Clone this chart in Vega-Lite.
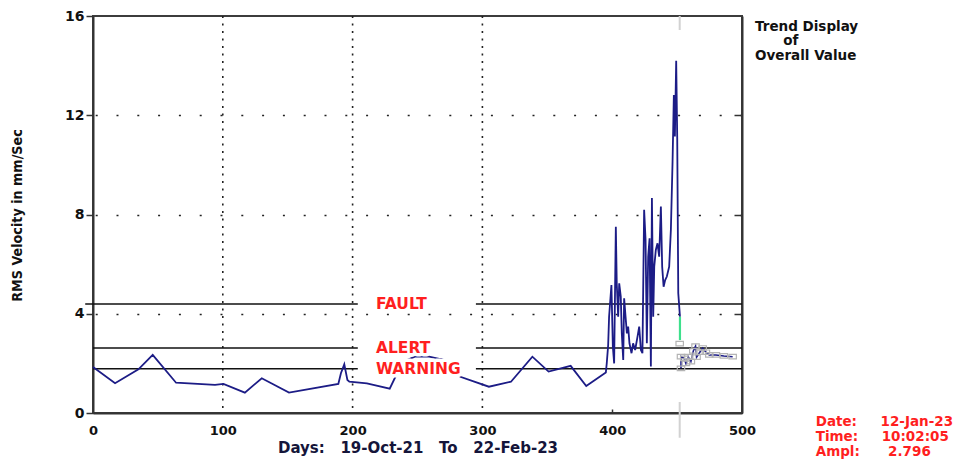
{
  "$schema": "https://vega.github.io/schema/vega-lite/v6.json",
  "width": 649,
  "height": 397,
  "autosize": {"type": "none"},
  "padding": {"left": 93, "top": 16, "right": 228, "bottom": 46},
  "background": "white",
  "title": {
    "text": ["Trend Display", "\u200b\u00a0\u00a0\u00a0\u00a0\u00a0\u00a0of", "Overall Value"],
    "orient": "top",
    "anchor": "start",
    "frame": "group",
    "baseline": "top",
    "offset": 0,
    "dx": 662,
    "dy": 53,
    "font": "DejaVu Sans",
    "fontSize": 13.5,
    "fontWeight": "bold",
    "color": "#111111",
    "lineHeight": 14.5
  },
  "config": {
    "view": {"stroke": "#3c3c3c", "strokeWidth": 2},
    "font": "DejaVu Sans",
    "axis": {
      "domainColor": "#333333",
      "domainWidth": 2,
      "tickColor": "#333333",
      "tickWidth": 1.5,
      "labelFont": "DejaVu Sans",
      "labelFontWeight": "bold",
      "labelColor": "#111111",
      "grid": false
    }
  },
  "resolve": {"axis": {"x": "independent", "y": "independent"}},
  "datasets": {
    "trend": [
      {"day": 0, "rms": 1.85}, {"day": 17, "rms": 1.2}, {"day": 35, "rms": 1.76}, {"day": 46, "rms": 2.34},
      {"day": 64, "rms": 1.22}, {"day": 94, "rms": 1.13}, {"day": 100.5, "rms": 1.17}, {"day": 117, "rms": 0.82},
      {"day": 130, "rms": 1.4}, {"day": 151, "rms": 0.82}, {"day": 189, "rms": 1.17}, {"day": 191, "rms": 1.6},
      {"day": 193.6, "rms": 1.96}, {"day": 196, "rms": 1.33}, {"day": 197.5, "rms": 1.26}, {"day": 211, "rms": 1.19},
      {"day": 228.6, "rms": 0.98}, {"day": 233, "rms": 1.46}, {"day": 242, "rms": 2.14}, {"day": 248, "rms": 2.27},
      {"day": 259, "rms": 2.27}, {"day": 270, "rms": 2.14}, {"day": 283, "rms": 1.46}, {"day": 305, "rms": 1.06},
      {"day": 322, "rms": 1.26}, {"day": 338.5, "rms": 2.27}, {"day": 351, "rms": 1.67}, {"day": 368, "rms": 1.9},
      {"day": 380, "rms": 1.09}, {"day": 395.1, "rms": 1.63}, {"day": 395.8, "rms": 2.0}, {"day": 396.9, "rms": 2.74},
      {"day": 397.6, "rms": 3.88}, {"day": 399.4, "rms": 5.16}, {"day": 400.5, "rms": 2.67}, {"day": 401.5, "rms": 2.0},
      {"day": 402.8, "rms": 7.51}, {"day": 403.5, "rms": 5.23}, {"day": 404.6, "rms": 3.88}, {"day": 405.4, "rms": 5.23},
      {"day": 406.6, "rms": 4.69}, {"day": 407.4, "rms": 3.21}, {"day": 408.5, "rms": 2.14}, {"day": 409.2, "rms": 4.62},
      {"day": 410.3, "rms": 3.88}, {"day": 411.3, "rms": 3.21}, {"day": 412.3, "rms": 3.48}, {"day": 413.3, "rms": 2.81},
      {"day": 414.9, "rms": 2.41}, {"day": 416.1, "rms": 2.81}, {"day": 417.7, "rms": 2.54}, {"day": 419.5, "rms": 3.08},
      {"day": 420.8, "rms": 3.48}, {"day": 422.1, "rms": 2.54}, {"day": 423.3, "rms": 2.41}, {"day": 424.6, "rms": 8.19},
      {"day": 425.7, "rms": 6.98}, {"day": 426.7, "rms": 2.81}, {"day": 427.7, "rms": 6.3}, {"day": 428.8, "rms": 7.04},
      {"day": 429.8, "rms": 1.87}, {"day": 430.6, "rms": 8.66}, {"day": 431.6, "rms": 3.88}, {"day": 432.4, "rms": 5.9},
      {"day": 433.6, "rms": 6.57}, {"day": 434.9, "rms": 6.84}, {"day": 436.2, "rms": 6.3}, {"day": 437.5, "rms": 8.32},
      {"day": 438.5, "rms": 5.9}, {"day": 439.6, "rms": 5.09}, {"day": 440.8, "rms": 5.36}, {"day": 442.1, "rms": 5.5},
      {"day": 443.9, "rms": 5.9}, {"day": 445.2, "rms": 7.38}, {"day": 446.5, "rms": 10.13}, {"day": 447.5, "rms": 12.82},
      {"day": 448.3, "rms": 11.14}, {"day": 449.3, "rms": 14.2}, {"day": 450.1, "rms": 11.08}, {"day": 450.9, "rms": 4.83},
      {"day": 452.2, "rms": 3.88}
    ],
    "link": [
      {"day": 452.2, "rms": 3.88}, {"day": 452.2, "rms": 2.94}
    ],
    "recent": [
      {"day": 453.0, "rms": 1.8}, {"day": 453.0, "rms": 2.27}, {"day": 455.5, "rms": 2.2}, {"day": 456.8, "rms": 2.0},
      {"day": 458.5, "rms": 2.27}, {"day": 460.6, "rms": 2.07}, {"day": 462.5, "rms": 2.5}, {"day": 464.2, "rms": 2.7},
      {"day": 465.0, "rms": 2.25}, {"day": 467.5, "rms": 2.45}, {"day": 469.7, "rms": 2.62}, {"day": 472.2, "rms": 2.45},
      {"day": 474.8, "rms": 2.34}, {"day": 479.9, "rms": 2.34}, {"day": 486.0, "rms": 2.3}, {"day": 492.8, "rms": 2.27}
    ],
    "limits": [
      {"level": "FAULT", "rms": 4.39, "from": -6, "to": 204},
      {"level": "FAULT", "rms": 4.39, "from": 295, "to": 500},
      {"level": "ALERT", "rms": 2.62, "from": 0, "to": 204},
      {"level": "ALERT", "rms": 2.62, "from": 295, "to": 500},
      {"level": "WARNING", "rms": 1.78, "from": 0, "to": 204},
      {"level": "WARNING", "rms": 1.78, "from": 295, "to": 500}
    ],
    "limitLabels": [
      {"level": "FAULT", "rms": 4.39},
      {"level": "ALERT", "rms": 2.62},
      {"level": "WARNING", "rms": 1.78}
    ],
    "gridDays": [{"day": 100}, {"day": 200}, {"day": 300}],
    "cursor": [
      {"day": 452.0, "rms": 2.796, "readout": "Date:\u00a0\u00a0\u00a0\u00a0\u00a012-Jan-23\nTime:\u00a0\u00a0\u00a0\u00a0\u00a010:02:05\nAmpl:\u00a0\u00a0\u00a0\u00a0\u00a0\u00a02.796"}
    ]
  },
  "layer": [
    {
      "data": {"name": "gridDays"},
      "mark": {"type": "rule", "color": "#222222", "strokeWidth": 1.6, "strokeDash": [2, 5.5]},
      "encoding": {
        "x": {
          "field": "day", "type": "quantitative",
          "scale": {"domain": [0, 500], "nice": false, "zero": false},
          "axis": {"values": [400], "orient": "bottom", "ticks": true, "tickSize": -4, "labels": false, "domain": false, "title": null}
        }
      }
    },
    {
      "data": {"name": "limits"},
      "mark": {"type": "rule", "color": "#111111", "strokeWidth": 1.5},
      "encoding": {
        "x": {"field": "from", "type": "quantitative", "scale": {"domain": [0, 500], "nice": false, "zero": false}, "axis": null},
        "x2": {"field": "to"},
        "y": {"field": "rms", "type": "quantitative", "scale": {"domain": [0, 16], "nice": false}, "axis": null}
      }
    },
    {
      "data": {"name": "cursor"},
      "mark": {"type": "rule", "color": "#d2d2d2", "strokeWidth": 2, "strokeDash": [14, 372, 40, 20]},
      "encoding": {
        "x": {"field": "day", "type": "quantitative", "scale": {"domain": [0, 500], "nice": false, "zero": false}, "axis": null},
        "y": {"datum": 16, "type": "quantitative", "scale": {"domain": [0, 16], "nice": false}, "axis": null},
        "y2": {"datum": -1}
      }
    },
    {
      "data": {"name": "trend"},
      "mark": {"type": "line", "color": "#1c1c86", "strokeWidth": 1.8, "strokeJoin": "miter"},
      "encoding": {
        "x": {
          "field": "day", "type": "quantitative",
          "scale": {"domain": [0, 500], "nice": false, "zero": false},
          "axis": {
            "orient": "bottom",
            "values": [0, 100, 200, 300, 400, 500],
            "ticks": false,
            "labelPadding": 11,
            "labelFontSize": 13,
            "labelFlush": false,
            "title": "Days:\u00a0\u00a0 19-Oct-21\u00a0\u00a0 To\u00a0\u00a0 22-Feb-23",
            "titleFont": "DejaVu Sans",
            "titleFontSize": 15,
            "titleFontWeight": "bold",
            "titleColor": "#15153a",
            "titlePadding": 3
          }
        },
        "y": {
          "field": "rms", "type": "quantitative",
          "scale": {"domain": [0, 16], "nice": false},
          "axis": {
            "values": [0, 4, 8, 12, 16],
            "tickSize": 7,
            "labelPadding": 2,
            "labelFontSize": 14,
            "labelFlush": false,
            "title": "RMS Velocity in mm/Sec",
            "titleFont": "DejaVu Sans Condensed, Liberation Sans, sans-serif",
            "titleFontSize": 14.2,
            "titleFontWeight": "bold",
            "titleColor": "#111111",
            "titleX": -69,
            "titleY": 199,
            "titleAlign": "center"
          }
        },
        "order": {"field": "day", "type": "quantitative"}
      }
    },
    {
      "data": {"name": "link"},
      "mark": {"type": "line", "color": "#3ee08c", "strokeWidth": 2.2},
      "encoding": {
        "x": {"field": "day", "type": "quantitative", "scale": {"domain": [0, 500], "nice": false, "zero": false}, "axis": null},
        "y": {
          "field": "rms", "type": "quantitative",
          "scale": {"domain": [0, 16], "nice": false},
          "axis": {
            "orient": "right",
            "values": [4, 8, 12],
            "labels": false,
            "ticks": true,
            "tickSize": -8,
            "domain": true,
            "grid": true,
            "gridColor": "#222222",
            "gridWidth": 1.6,
            "gridDash": [2, 18.8],
            "title": null
          }
        }
      }
    },
    {
      "data": {"name": "recent"},
      "mark": {"type": "line", "color": "#1c1c86", "strokeWidth": 1.6},
      "encoding": {
        "x": {"field": "day", "type": "quantitative", "scale": {"domain": [0, 500], "nice": false, "zero": false}, "axis": null},
        "y": {"field": "rms", "type": "quantitative", "scale": {"domain": [0, 16], "nice": false}, "axis": null},
        "order": {"field": "day", "type": "quantitative"}
      }
    },
    {
      "data": {"name": "recent"},
      "mark": {"type": "point", "shape": "M-1,-0.6H1V0.6H-1Z", "size": 55, "filled": false, "color": "#b4b4b4", "strokeWidth": 1.2, "opacity": 1},
      "encoding": {
        "x": {"field": "day", "type": "quantitative", "scale": {"domain": [0, 500], "nice": false, "zero": false}, "axis": null},
        "y": {"field": "rms", "type": "quantitative", "scale": {"domain": [0, 16], "nice": false}, "axis": null}
      }
    },
    {
      "data": {"name": "cursor"},
      "mark": {"type": "point", "shape": "M-1,-0.6H1V0.6H-1Z", "size": 55, "filled": false, "color": "#b4b4b4", "strokeWidth": 1.2, "opacity": 1},
      "encoding": {
        "x": {"field": "day", "type": "quantitative", "scale": {"domain": [0, 500], "nice": false, "zero": false}, "axis": null},
        "y": {"field": "rms", "type": "quantitative", "scale": {"domain": [0, 16], "nice": false}, "axis": null}
      }
    },
    {
      "data": {"name": "limitLabels"},
      "mark": {"type": "text", "align": "left", "baseline": "middle", "font": "DejaVu Sans", "fontSize": 15.5, "fontWeight": "bold", "stroke": "white", "strokeWidth": 7, "strokeJoin": "round", "fill": "white"},
      "encoding": {
        "x": {"datum": 218, "type": "quantitative", "scale": {"domain": [0, 500], "nice": false, "zero": false}, "axis": null},
        "y": {"field": "rms", "type": "quantitative", "scale": {"domain": [0, 16], "nice": false}, "axis": null},
        "text": {"field": "level"}
      }
    },
    {
      "data": {"name": "limitLabels"},
      "mark": {"type": "text", "align": "left", "baseline": "middle", "font": "DejaVu Sans", "fontSize": 15.5, "fontWeight": "bold", "color": "#ff1f1f"},
      "encoding": {
        "x": {"datum": 218, "type": "quantitative", "scale": {"domain": [0, 500], "nice": false, "zero": false}, "axis": null},
        "y": {"field": "rms", "type": "quantitative", "scale": {"domain": [0, 16], "nice": false}, "axis": null},
        "text": {"field": "level"}
      }
    },
    {
      "data": {"name": "cursor"},
      "mark": {"type": "text", "align": "left", "baseline": "middle", "dx": 136, "dy": 9, "lineBreak": "\n", "lineHeight": 15, "font": "DejaVu Sans", "fontSize": 13.5, "fontWeight": "bold", "color": "#ff1f1f"},
      "encoding": {
        "x": {"field": "day", "type": "quantitative", "scale": {"domain": [0, 500], "nice": false, "zero": false}, "axis": null},
        "y": {"datum": 0, "type": "quantitative", "scale": {"domain": [0, 16], "nice": false}, "axis": null},
        "text": {"field": "readout"}
      }
    }
  ]
}
